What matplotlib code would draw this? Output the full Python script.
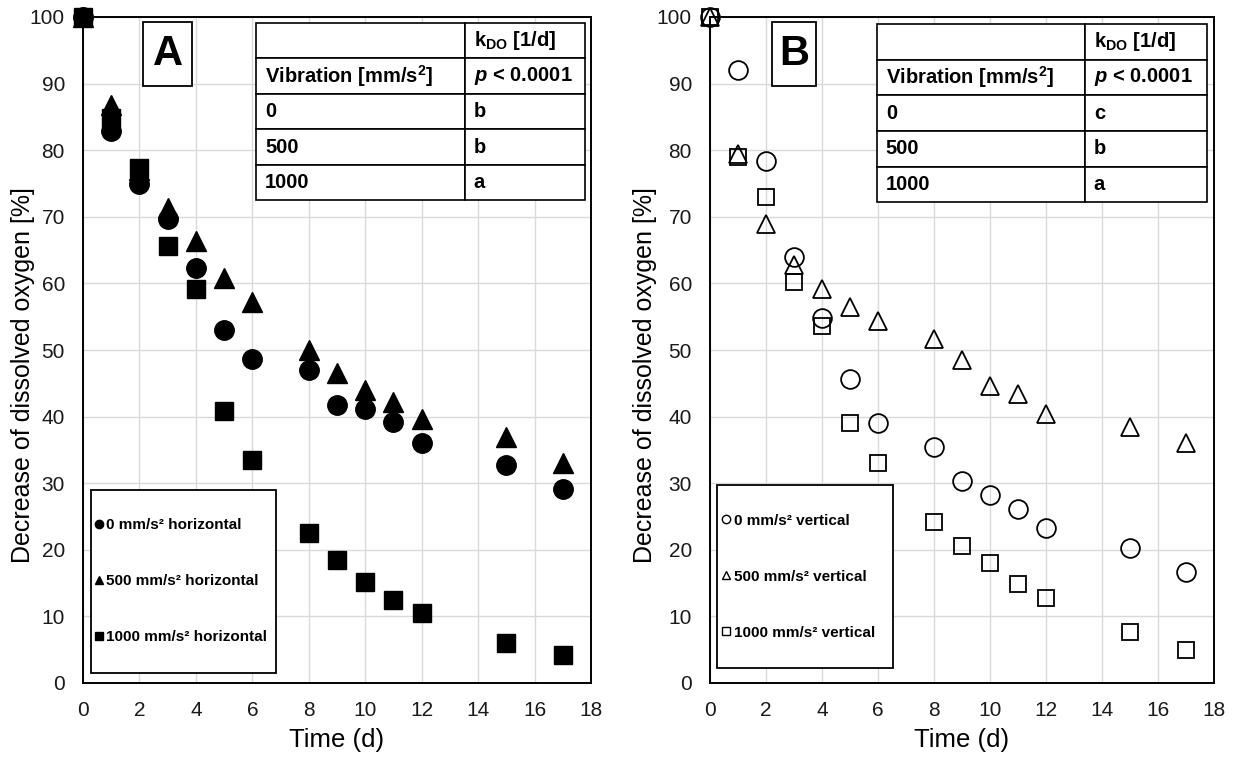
import matplotlib
matplotlib.use("Agg")
import matplotlib.pyplot as plt
from matplotlib.patches import Rectangle
from matplotlib.lines import Line2D

plt.rcParams['font.family'] = ['Liberation Sans', 'DejaVu Sans']
plt.rcParams['mathtext.fontset'] = 'custom'
plt.rcParams['mathtext.rm'] = 'Liberation Sans'
plt.rcParams['mathtext.it'] = 'Liberation Sans:italic'
plt.rcParams['mathtext.bf'] = 'Liberation Sans:bold'
plt.rcParams['mathtext.bfit'] = 'Liberation Sans:italic:bold'

# ---------------- data ----------------
time_d = [0, 1, 2, 3, 4, 5, 6, 8, 9, 10, 11, 12, 15, 17]

# Panel A (horizontal vibration)
h_0 = [100, 82.9, 75.0, 69.6, 62.3, 53.0, 48.7, 47.0, 41.7, 41.2, 39.2, 36.1, 32.7, 29.1]
h_500 = [100, 86.8, 77.0, 71.3, 66.3, 60.8, 57.2, 50.0, 46.6, 44.0, 42.2, 39.7, 37.0, 33.0]
h_1000 = [100, 84.8, 77.3, 65.6, 59.1, 40.9, 33.5, 22.5, 18.5, 15.1, 12.5, 10.5, 6.0, 4.2]

# Panel B (vertical vibration)
v_0 = [100, 92.0, 78.4, 63.9, 54.8, 45.7, 39.0, 35.5, 30.4, 28.2, 26.1, 23.2, 20.2, 16.7]
v_500 = [100, 79.4, 68.9, 62.7, 59.2, 56.4, 54.4, 51.6, 48.5, 44.6, 43.4, 40.4, 38.5, 36.0]
v_1000 = [100, 79.0, 73.0, 60.2, 53.6, 39.0, 33.0, 24.2, 20.5, 18.0, 14.8, 12.7, 7.7, 5.0]

labels_h = ["0 mm/s\u00b2 horizontal", "500 mm/s\u00b2 horizontal", "1000 mm/s\u00b2 horizontal"]
labels_v = ["0 mm/s\u00b2 vertical", "500 mm/s\u00b2 vertical", "1000 mm/s\u00b2 vertical"]

table_A = [["", r"k$_{\mathbf{DO}}$ [1/d]"],
           [r"Vibration [mm/s$^{\mathbf{2}}$]", r"$\mathbfit{p}$ < 0.0001"],
           ["0", "b"], ["500", "b"], ["1000", "a"]]
table_B = [["", r"k$_{\mathbf{DO}}$ [1/d]"],
           [r"Vibration [mm/s$^{\mathbf{2}}$]", r"$\mathbfit{p}$ < 0.0001"],
           ["0", "c"], ["500", "b"], ["1000", "a"]]

markers = ['o', '^', 's']
msizes = [14, 14, 12.5]

W, H = 1236, 758
fig = plt.figure(figsize=(W / 100, H / 100), dpi=100)

def px_axes(l, r, t, b):
    return fig.add_axes([l / W, 1 - b / H, (r - l) / W, (b - t) / H])

axA = px_axes(83, 591, 17, 683)
axB = px_axes(710, 1214, 17, 683)


def style(ax):
    ax.set_xlim(0, 18)
    ax.set_ylim(0, 100)
    ax.set_xticks(range(0, 19, 2))
    ax.set_yticks(range(0, 101, 10))
    ax.grid(True, color='#d9d9d9', lw=1.0)
    ax.set_axisbelow(True)
    for s in ax.spines.values():
        s.set_linewidth(1.4)
        s.set_color('black')
    ax.tick_params(length=0, labelsize=15, colors='#1a1a1a')
    ax.tick_params(axis='x', pad=13)
    ax.tick_params(axis='y', pad=13)
    ax.set_xlabel("Time (d)", fontsize=18.5, labelpad=6)
    ax.set_ylabel("Decrease of dissolved oxygen [%]", fontsize=18)


def draw_table(ax, cells, x0, x1, y0, y1, colfrac, axw):
    tb = ax.table(cellText=cells, cellLoc='left',
                  colWidths=[colfrac, 1 - colfrac],
                  bbox=[x0, y0, x1 - x0, y1 - y0], zorder=5)
    tb.auto_set_font_size(False)
    tb.set_fontsize(14.5)
    widths = [colfrac * (x1 - x0) * axw, (1 - colfrac) * (x1 - x0) * axw]
    for (r, c), cell in tb.get_celld().items():
        cell.set_edgecolor('black')
        cell.set_linewidth(1.2)
        cell.set_facecolor('white')
        cell.PAD = 9.0 / widths[c]
        cell.get_text().set_fontweight('bold')
        cell.get_text().set_color('black')
    return tb


def draw_legend(ax, handles, labels, fx0, fx1, fy0, fy1, anchor_x):
    ax.add_patch(Rectangle((fx0, fy0), fx1 - fx0, fy1 - fy0, transform=ax.transAxes,
                           fill=True, fc='white', ec='black', lw=1.3, zorder=4))
    leg = ax.legend(handles, labels, loc='center left',
                    bbox_to_anchor=(anchor_x, (fy0 + fy1) / 2), borderaxespad=0,
                    borderpad=0, frameon=False, handlelength=0.7, handletextpad=0.15,
                    labelspacing=2.75, prop={'weight': 'bold', 'size': 11})
    leg.set_zorder(6)
    return leg


def letter_box(ax, txt, fx0, fx1, fy0, fy1):
    ax.add_patch(Rectangle((fx0, fy0), fx1 - fx0, fy1 - fy0, transform=ax.transAxes,
                           fill=True, fc='white', ec='black', lw=1.3, zorder=4))
    ax.text((fx0 + fx1) / 2, (fy0 + fy1) / 2, txt, transform=ax.transAxes,
            ha='center', va='center', fontsize=30, fontweight='bold', zorder=5)


# ---------------- Panel A ----------------
style(axA)
for ys, m, ms in zip([h_0, h_500, h_1000], markers, msizes):
    axA.plot(time_d, ys, ls='none', marker=m, ms=ms, mfc='black', mec='black',
             clip_on=False, zorder=3)
axA.yaxis.set_label_coords(-0.094, 0.4625)
draw_table(axA, table_A, 0.3406, 0.988, 0.725, 0.991, 0.635, 508)
hA = [Line2D([], [], ls='none', marker=m, ms=6, mfc='black', mec='black') for m in markers]
draw_legend(axA, hA, labels_h, 0.0157, 0.380, 0.0155, 0.290, 0.020)
letter_box(axA, "A", 0.118, 0.2146, 0.896, 0.992)

# ---------------- Panel B ----------------
style(axB)
for ys, m, ms in zip([v_0, v_500, v_1000], markers, msizes):
    axB.plot(time_d, ys, ls='none', marker=m, ms=ms - 0.5, mfc='none', mec='black',
             mew=1.3, clip_on=False, zorder=3)
axB.yaxis.set_label_coords(-0.105, 0.4625)
draw_table(axB, table_B, 0.331, 0.986, 0.722, 0.9895, 0.63, 504)
hB = [Line2D([], [], ls='none', marker=m, ms=6, mfc='white', mec='black', mew=1.0) for m in markers]
draw_legend(axB, hB, labels_v, 0.0139, 0.363, 0.0225, 0.297, 0.022)
letter_box(axB, "B", 0.123, 0.210, 0.896, 0.993)

fig.savefig("out.png", dpi=100)
